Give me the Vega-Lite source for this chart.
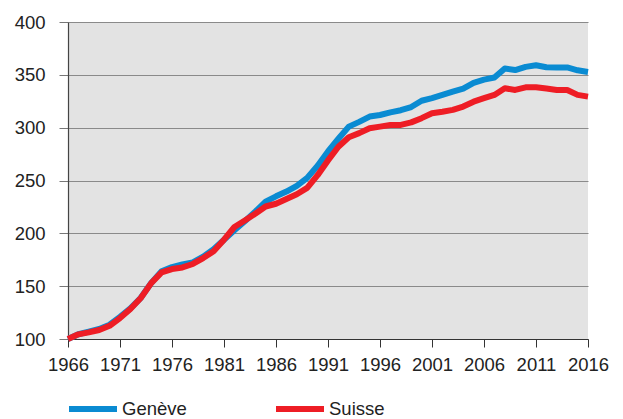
{
  "$schema": "https://vega.github.io/schema/vega-lite/v6.json",
  "width": 520,
  "height": 317,
  "autosize": {"type": "none"},
  "padding": {"left": 68, "top": 22, "right": 35, "bottom": 80},
  "background": "white",
  "config": {
    "view": {"fill": "#e3e3e3", "stroke": null},
    "font": "Liberation Sans"
  },
  "data": {
    "values": [
      {"year": 1966, "region": "Genève", "value": 100},
      {"year": 1967, "region": "Genève", "value": 104.5},
      {"year": 1968, "region": "Genève", "value": 107},
      {"year": 1969, "region": "Genève", "value": 109.5},
      {"year": 1970, "region": "Genève", "value": 113.5},
      {"year": 1971, "region": "Genève", "value": 121},
      {"year": 1972, "region": "Genève", "value": 129},
      {"year": 1973, "region": "Genève", "value": 139},
      {"year": 1974, "region": "Genève", "value": 153},
      {"year": 1975, "region": "Genève", "value": 164},
      {"year": 1976, "region": "Genève", "value": 168},
      {"year": 1977, "region": "Genève", "value": 170.5},
      {"year": 1978, "region": "Genève", "value": 172.5},
      {"year": 1979, "region": "Genève", "value": 178},
      {"year": 1980, "region": "Genève", "value": 185},
      {"year": 1981, "region": "Genève", "value": 194},
      {"year": 1982, "region": "Genève", "value": 203},
      {"year": 1983, "region": "Genève", "value": 211.5},
      {"year": 1984, "region": "Genève", "value": 220.5},
      {"year": 1985, "region": "Genève", "value": 230},
      {"year": 1986, "region": "Genève", "value": 235},
      {"year": 1987, "region": "Genève", "value": 239.5},
      {"year": 1988, "region": "Genève", "value": 245},
      {"year": 1989, "region": "Genève", "value": 252.5},
      {"year": 1990, "region": "Genève", "value": 264},
      {"year": 1991, "region": "Genève", "value": 277.5},
      {"year": 1992, "region": "Genève", "value": 289.5},
      {"year": 1993, "region": "Genève", "value": 301},
      {"year": 1994, "region": "Genève", "value": 305.5},
      {"year": 1995, "region": "Genève", "value": 310.5},
      {"year": 1996, "region": "Genève", "value": 312},
      {"year": 1997, "region": "Genève", "value": 314.5},
      {"year": 1998, "region": "Genève", "value": 316.5},
      {"year": 1999, "region": "Genève", "value": 319.5},
      {"year": 2000, "region": "Genève", "value": 325.5},
      {"year": 2001, "region": "Genève", "value": 328},
      {"year": 2002, "region": "Genève", "value": 331},
      {"year": 2003, "region": "Genève", "value": 334},
      {"year": 2004, "region": "Genève", "value": 337},
      {"year": 2005, "region": "Genève", "value": 342.5},
      {"year": 2006, "region": "Genève", "value": 345.5},
      {"year": 2007, "region": "Genève", "value": 347.5},
      {"year": 2008, "region": "Genève", "value": 356},
      {"year": 2009, "region": "Genève", "value": 354.5},
      {"year": 2010, "region": "Genève", "value": 357.5},
      {"year": 2011, "region": "Genève", "value": 359},
      {"year": 2012, "region": "Genève", "value": 357.2},
      {"year": 2013, "region": "Genève", "value": 357},
      {"year": 2014, "region": "Genève", "value": 357},
      {"year": 2015, "region": "Genève", "value": 354.3},
      {"year": 2016, "region": "Genève", "value": 352.7},
      {"year": 1966, "region": "Suisse", "value": 100},
      {"year": 1967, "region": "Suisse", "value": 104.4},
      {"year": 1968, "region": "Suisse", "value": 106.3},
      {"year": 1969, "region": "Suisse", "value": 108.5},
      {"year": 1970, "region": "Suisse", "value": 112.5},
      {"year": 1971, "region": "Suisse", "value": 119.8},
      {"year": 1972, "region": "Suisse", "value": 128.4},
      {"year": 1973, "region": "Suisse", "value": 138.8},
      {"year": 1974, "region": "Suisse", "value": 152.9},
      {"year": 1975, "region": "Suisse", "value": 163},
      {"year": 1976, "region": "Suisse", "value": 166.2},
      {"year": 1977, "region": "Suisse", "value": 167.7},
      {"year": 1978, "region": "Suisse", "value": 171},
      {"year": 1979, "region": "Suisse", "value": 176.6},
      {"year": 1980, "region": "Suisse", "value": 183},
      {"year": 1981, "region": "Suisse", "value": 194},
      {"year": 1982, "region": "Suisse", "value": 206},
      {"year": 1983, "region": "Suisse", "value": 212.1},
      {"year": 1984, "region": "Suisse", "value": 218.5},
      {"year": 1985, "region": "Suisse", "value": 225.4},
      {"year": 1986, "region": "Suisse", "value": 228},
      {"year": 1987, "region": "Suisse", "value": 232.5},
      {"year": 1988, "region": "Suisse", "value": 237},
      {"year": 1989, "region": "Suisse", "value": 243},
      {"year": 1990, "region": "Suisse", "value": 255},
      {"year": 1991, "region": "Suisse", "value": 269},
      {"year": 1992, "region": "Suisse", "value": 282},
      {"year": 1993, "region": "Suisse", "value": 291},
      {"year": 1994, "region": "Suisse", "value": 294.8},
      {"year": 1995, "region": "Suisse", "value": 299.5},
      {"year": 1996, "region": "Suisse", "value": 301},
      {"year": 1997, "region": "Suisse", "value": 302.6},
      {"year": 1998, "region": "Suisse", "value": 302.6},
      {"year": 1999, "region": "Suisse", "value": 305},
      {"year": 2000, "region": "Suisse", "value": 309},
      {"year": 2001, "region": "Suisse", "value": 313.7},
      {"year": 2002, "region": "Suisse", "value": 315},
      {"year": 2003, "region": "Suisse", "value": 316.8},
      {"year": 2004, "region": "Suisse", "value": 320},
      {"year": 2005, "region": "Suisse", "value": 324.6},
      {"year": 2006, "region": "Suisse", "value": 327.9},
      {"year": 2007, "region": "Suisse", "value": 331},
      {"year": 2008, "region": "Suisse", "value": 337.3},
      {"year": 2009, "region": "Suisse", "value": 335.7},
      {"year": 2010, "region": "Suisse", "value": 338.2},
      {"year": 2011, "region": "Suisse", "value": 338.2},
      {"year": 2012, "region": "Suisse", "value": 337},
      {"year": 2013, "region": "Suisse", "value": 335.7},
      {"year": 2014, "region": "Suisse", "value": 335.7},
      {"year": 2015, "region": "Suisse", "value": 331},
      {"year": 2016, "region": "Suisse", "value": 329.4}
    ]
  },
  "mark": {"type": "line", "strokeWidth": 6, "strokeJoin": "round", "strokeCap": "butt", "clip": false},
  "encoding": {
    "x": {
      "field": "year",
      "type": "quantitative",
      "scale": {"domain": [1966, 2016], "nice": false, "zero": false},
      "axis": {
        "title": null,
        "values": [1966, 1971, 1976, 1981, 1986, 1991, 1996, 2001, 2006, 2011, 2016],
        "format": "d",
        "grid": false,
        "domainColor": "#333333",
        "domainWidth": 1.2,
        "tickColor": "#333333",
        "tickSize": 8,
        "labelFontSize": 18.5,
        "labelColor": "#222222",
        "labelPadding": 8,
        "labelFlush": false
      }
    },
    "y": {
      "field": "value",
      "type": "quantitative",
      "scale": {"domain": [100, 400], "nice": false, "zero": false},
      "axis": {
        "title": null,
        "values": [100, 150, 200, 250, 300, 350, 400],
        "grid": true,
        "gridColor": "#8a8a8a",
        "gridWidth": 1.2,
        "domainColor": "#444444",
        "domainWidth": 1.2,
        "tickColor": "#777777",
        "tickSize": 9,
        "labelFontSize": 18.5,
        "labelColor": "#222222",
        "labelPadding": 14
      }
    },
    "color": {
      "field": "region",
      "type": "nominal",
      "scale": {"domain": ["Genève", "Suisse"], "range": ["#0a8bd2", "#ee1d25"]},
      "legend": {
        "title": null,
        "orient": "none",
        "direction": "horizontal",
        "legendX": -2,
        "legendY": 360,
        "symbolType": "stroke",
        "symbolSize": 2304,
        "symbolStrokeWidth": 6,
        "labelFontSize": 18.5,
        "labelColor": "#222222",
        "labelOffset": 2,
        "columnPadding": 77,
        "padding": 0
      }
    }
  }
}
